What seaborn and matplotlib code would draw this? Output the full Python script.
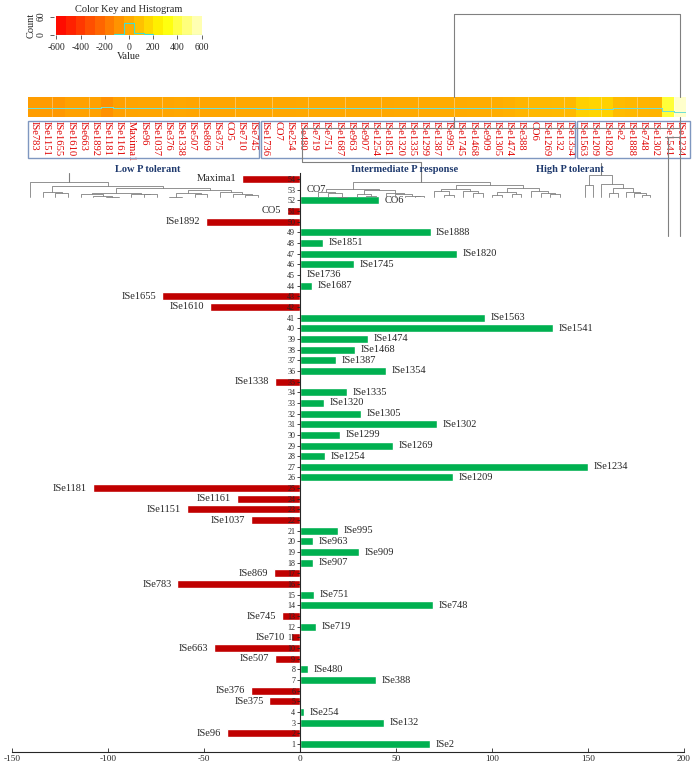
import numpy as np
import pandas as pd
import seaborn as sns
import matplotlib
matplotlib.use('Agg')
import matplotlib.pyplot as plt
from matplotlib.colors import LinearSegmentedColormap

# --- bar chart data (row 1 = bottom, row 54 = top) ---
genotypes = ['ISe2', 'ISe96', 'ISe132', 'ISe254', 'ISe375', 'ISe376', 'ISe388', 'ISe480', 'ISe507', 'ISe663',
             'ISe710', 'ISe719', 'ISe745', 'ISe748', 'ISe751', 'ISe783', 'ISe869', 'ISe907', 'ISe909', 'ISe963',
             'ISe995', 'ISe1037', 'ISe1151', 'ISe1161', 'ISe1181', 'ISe1209', 'ISe1234', 'ISe1254', 'ISe1269', 'ISe1299',
             'ISe1302', 'ISe1305', 'ISe1320', 'ISe1335', 'ISe1338', 'ISe1354', 'ISe1387', 'ISe1468', 'ISe1474', 'ISe1541',
             'ISe1563', 'ISe1610', 'ISe1655', 'ISe1687', 'ISe1736', 'ISe1745', 'ISe1820', 'ISe1851', 'ISe1888', 'ISe1892',
             'CO5', 'CO6', 'CO7', 'Maxima1']
values = [67.5, -38, 44, 2, -16, -25.5, 39.5, 4, -13, -45,
          -4.8, 8.5, -9.5, 69.5, 7.5, -64, -13.5, 6.7, 30.6, 6.6,
          20, -25.5, -59, -33, -108, 79.5, 150, 13, 48.4, 21,
          71.4, 31.8, 12.3, 24.5, -13, 44.7, 19, 28.6, 35.5, 132,
          96.2, -47, -71.7, 6.4, 0.5, 28.3, 82, 12.1, 68, -49,
          -7, 41, 0.5, -30]
rows = list(range(1, 55))

# --- heatmap strip (column order as drawn) ---
low_p = ['ISe783', 'ISe1151', 'ISe1655', 'ISe1610', 'ISe663', 'ISe1892', 'ISe1181', 'ISe1161', 'Maxima1', 'ISe96',
         'ISe1037', 'ISe376', 'ISe1338', 'ISe507', 'ISe869', 'ISe375', 'CO5', 'ISe710', 'ISe745']
mid_p = ['ISe1736', 'CO7', 'ISe254', 'ISe480', 'ISe719', 'ISe751', 'ISe1687', 'ISe963', 'ISe907', 'ISe1254',
         'ISe1851', 'ISe1320', 'ISe1335', 'ISe1299', 'ISe1387', 'ISe995', 'ISe1745', 'ISe1468', 'ISe909', 'ISe1305',
         'ISe1474', 'ISe388', 'CO6', 'ISe1269', 'ISe132', 'ISe1354']
high_p = ['ISe1563', 'ISe1209', 'ISe1820', 'ISe2', 'ISe1888', 'ISe748', 'ISe1302', 'ISe1541', 'ISe1234']
heat_low = [-45, -55, -65, -30, -30, -30, -85, -35, -20, -15, -15, -15, -10, -15, -15, -15, -15, -10, -10]
heat_mid = [-10, -10, -10, -8, -8, -8, -5, -5, -5, -5, -5, -3, -3, -3, 0, 0, 0, 5, 5, 10,
            20, 40, 50, 50, 55, 55]
heat_high = [135, 150, 140, 60, 50, 35, 30, 380, 600]
key_ticks = [-600, -400, -200, 0, 200, 400, 600]

sns.set_style('ticks')
plt.rcParams['font.family'] = ['Liberation Serif', 'DejaVu Serif']
plt.rcParams['axes.unicode_minus'] = False

W, H = 700, 768
fig = plt.figure(figsize=(7, 7.68), dpi=100)


def box(x0, y0, x1, y1):
    # pixel box (top-left origin) -> figure fraction
    return [x0 / W, 1 - y1 / H, (x1 - x0) / W, (y1 - y0) / H]


# heat colours, R heat.colors style
heat_cmap = LinearSegmentedColormap.from_list('heat', [(0, '#FF0000'), (0.75, '#FFFF00'), (1, '#FFFFCC')])

# --- bar chart ---
ax = fig.add_axes(box(12, 172.6, 684, 752))
df = pd.DataFrame({'row': [str(r) for r in rows], 'genotype': genotypes, 'value': values})
df['sign'] = np.where(df['value'] < 0, 'neg', 'pos')
order = [str(r) for r in rows[::-1]]
sns.barplot(data=df, x='value', y='row', hue='sign', order=order, orient='h',
            palette={'neg': '#C00000', 'pos': '#00B050'}, dodge=False, width=0.75,
            saturation=1, legend=False, ax=ax)
ax.set_xlim(-150, 200)
ax.set_ylim(53.75, -0.6)
ax.set_xticks(range(-150, 201, 50))
ax.set_xlabel('')
ax.set_ylabel('')
ax.spines['left'].set_position(('data', 0))
ax.spines['left'].set_linewidth(0.8)
ax.spines['bottom'].set_linewidth(0.8)
ax.spines['top'].set_visible(False)
ax.spines['right'].set_visible(False)
ax.set_axisbelow(False)
ax.tick_params(axis='y', length=2, width=0.6, pad=1.5, labelsize=5.8)
ax.tick_params(axis='x', direction='in', length=3, width=0.6, pad=2, labelsize=6.7)
for _, r in df.iterrows():
    pos = order.index(r['row'])
    if r['value'] < 0:
        ax.annotate(r['genotype'], (r['value'], pos), xytext=(-4, 0), textcoords='offset points',
                    ha='right', va='center', fontsize=7.5)
    else:
        ax.annotate(r['genotype'], (r['value'], pos), xytext=(4, 0), textcoords='offset points',
                    ha='left', va='center', fontsize=7.5)

# --- heatmap strip ---
names = low_p + mid_p + high_p
heat_vals = heat_low + heat_mid + heat_high
ncol = len(names)
hx0, hx1 = 28, 686
ax_h = fig.add_axes(box(hx0, 97, hx1, 117))
sns.heatmap(pd.DataFrame([heat_vals], columns=names), ax=ax_h, cmap=heat_cmap, vmin=-600, vmax=600,
            cbar=False, xticklabels=True, yticklabels=False)
ax_h.tick_params(axis='x', length=0, pad=3)
for t in ax_h.get_xticklabels():
    t.set_rotation(270)
    t.set_color('#E00000')
    t.set_fontsize(7.6)
    t.set_va('top')
    t.set_ha('center')
# faint separators between some cells
for i in range(2, ncol, 3):
    ax_h.axvline(i, color='#FFFFFF', lw=0.4, alpha=0.6)
# trace line
tx = np.arange(ncol + 1)
ty = 0.525 + np.round(np.array(heat_vals + [heat_vals[-1]]) / 600 * 4) / 20
ax_h.step(tx, ty, where='post', color='#70E0D4', lw=0.6, zorder=5, antialiased=False)

# --- colour key and histogram ---
breaks = np.linspace(-600, 600, 16)
mids = (breaks[:-1] + breaks[1:]) / 2
counts, _ = np.histogram(heat_vals, bins=breaks)
ax_k = fig.add_axes(box(54, 16, 204, 35))
ax_k.pcolormesh(breaks, [0, 62], mids[None, :], cmap=heat_cmap, vmin=-600, vmax=600)
ax_k.stairs(counts, breaks, color='#40E0D0', lw=0.8)
ax_k.set_xlim(-620, 620)
ax_k.set_ylim(0, 62)
ax_k.set_xticks(key_ticks)
ax_k.set_yticks([0, 60])
ax_k.tick_params(labelsize=7, length=3, width=0.5, pad=3)
for t in ax_k.get_yticklabels():
    t.set_rotation(90)
    t.set_va('center')
ax_k.set_xlabel('Value', fontsize=7.5, labelpad=0)
ax_k.set_ylabel('Count', fontsize=7.5, labelpad=1)
ax_k.set_title('Color Key and Histogram', fontsize=7.5, pad=3)
for s in ax_k.spines.values():
    s.set_visible(False)

# --- overlay: group boxes, labels, dendrograms (pixel space) ---
ov = fig.add_axes([0, 0, 1, 1], facecolor='none')
ov.set_xlim(0, W)
ov.set_ylim(H, 0)
ov.axis('off')
cw = (hx1 - hx0) / ncol


def col_x(i):
    return hx0 + cw * (i + 0.5)


n1, n2 = len(low_p), len(low_p) + len(mid_p)
box_col = '#7F97C0'
for a, b in [(0, n1), (n1, n2), (n2, ncol)]:
    x0 = hx0 + cw * a + (1 if a else 0)
    x1 = hx0 + cw * b + (4 if b == ncol else -1)
    ov.add_patch(plt.Rectangle((x0, 121), x1 - x0, 37, fill=False, ec=box_col, lw=1))

navy = '#1F3A6E'
ov.text(148, 169, 'Low P tolerant', color=navy, fontsize=7.5, fontweight='bold', ha='center', va='center')
ov.text(405, 169, 'Intermediate P response', color=navy, fontsize=7.5, fontweight='bold', ha='center', va='center')
ov.text(570, 169, 'High P tolerant', color=navy, fontsize=7.5, fontweight='bold', ha='center', va='center')

val_of = dict(zip(genotypes, values))


def cluster(vals):
    groups = {i: [i] for i in range(len(vals))}
    tree, height = {}, {i: 0.0 for i in range(len(vals))}
    nid = len(vals)
    while len(groups) > 1:
        keys = list(groups)
        best = None
        for i, a in enumerate(keys):
            for b in keys[i + 1:]:
                d = abs(np.mean([vals[k] for k in groups[a]]) - np.mean([vals[k] for k in groups[b]]))
                if best is None or d < best[0]:
                    best = (d, a, b)
        d, a, b = best
        tree[nid] = (a, b)
        height[nid] = max(d, height[a], height[b])
        groups[nid] = groups.pop(a) + groups.pop(b)
        nid += 1
    return tree, height, nid - 1


def draw_dendro(members, x0, x1, ytop, ybot):
    tree, height, root = cluster([val_of[m] for m in members])
    leaves = []

    def walk(n):
        if n in tree:
            walk(tree[n][0])
            walk(tree[n][1])
        else:
            leaves.append(n)
    walk(root)
    step = (x1 - x0) / max(len(leaves) - 1, 1)
    xpos = {leaf: x0 + step * i for i, leaf in enumerate(leaves)}
    hmax = np.sqrt(height[root])

    def ypx(n):
        return ybot - (ybot - ytop) * np.sqrt(height[n]) / hmax

    def place(n):
        if n not in tree:
            return xpos[n]
        a, b = tree[n]
        xa, xb = place(a), place(b)
        ov.plot([xa, xa, xb, xb], [ypx(a), ypx(n), ypx(n), ypx(b)], color='#808080', lw=0.6)
        return (xa + xb) / 2
    return place(root)


gray = '#808080'
r1 = draw_dendro(low_p, 30, 258, 182, 197)
ov.plot([r1, r1], [182, 173], color=gray, lw=0.8)
r2 = draw_dendro(mid_p, 318, 560, 182, 197)
ov.plot([r2, r2, col_x(22), col_x(22)], [182, 162, 162, 128], color=gray, lw=0.8)
r3 = draw_dendro(high_p, 585, 650, 175, 197)
ov.plot([r3, r3], [175, 163], color=gray, lw=0.8)

# top bracket joining the heatmap columns
xb0 = hx0 + cw * 35
ov.plot([xb0, xb0, col_x(53), col_x(53)], [97, 14, 14, 97], color=gray, lw=0.8)
ov.plot([xb0, xb0], [117, 128], color=gray, lw=0.8)
ov.plot([col_x(22), col_x(53)], [128, 128], color=gray, lw=0.8)
ov.plot([col_x(53), col_x(53)], [117, 236], color=gray, lw=0.8)
ov.plot([col_x(52) - 3, col_x(53)], [137, 137], color=gray, lw=0.8)
ov.plot([col_x(52), col_x(52)], [137, 236], color=gray, lw=0.8)

fig.savefig('out.png', dpi=100)
